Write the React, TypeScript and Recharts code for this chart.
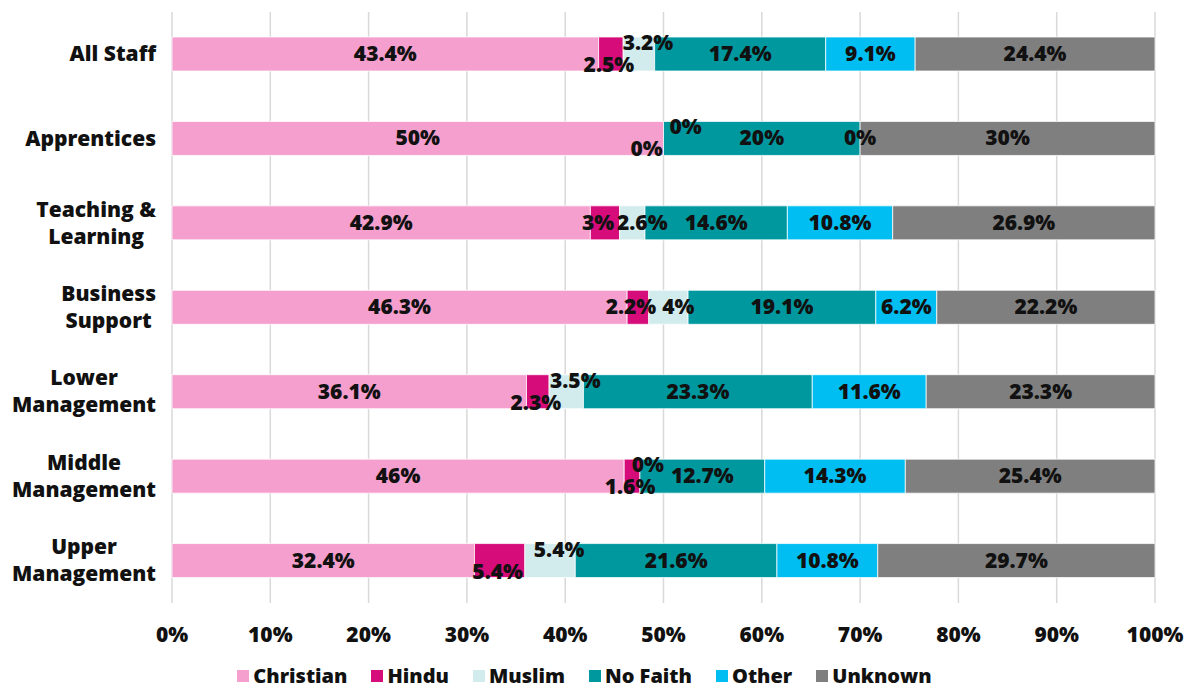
import React from "react";
import {
  BarChart,
  Bar,
  XAxis,
  YAxis,
  CartesianGrid,
  Legend,
  LabelList,
} from "recharts";

const categories = [
  "All Staff",
  "Apprentices",
  "Teaching & Learning",
  "Business Support",
  "Lower Management",
  "Middle Management",
  "Upper Management",
];

// how each category name is broken over lines on the axis
const tickLines = [
  ["All Staff"],
  ["Apprentices"],
  ["Teaching &", "Learning"],
  ["Business", "Support"],
  ["Lower", "Management"],
  ["Middle", "Management"],
  ["Upper", "Management"],
];

const christian = [43.4, 50, 42.9, 46.3, 36.1, 46, 32.4];
const hindu = [2.5, 0, 3, 2.2, 2.3, 1.6, 5.4];
const muslim = [3.2, 0, 2.6, 4, 3.5, 0, 5.4];
const noFaith = [17.4, 20, 14.6, 19.1, 23.3, 12.7, 21.6];
const other = [9.1, 0, 10.8, 6.2, 11.6, 14.3, 10.8];
const unknown = [24.4, 30, 26.9, 22.2, 23.3, 25.4, 29.7];

const xTicks = [0, 0.1, 0.2, 0.3, 0.4, 0.5, 0.6, 0.7, 0.8, 0.9, 1];

const series = [
  { key: "christian", name: "Christian", values: christian, color: "#F49FCD" },
  { key: "hindu", name: "Hindu", values: hindu, color: "#D60C7B" },
  { key: "muslim", name: "Muslim", values: muslim, color: "#D2ECEE" },
  { key: "noFaith", name: "No Faith", values: noFaith, color: "#00989F" },
  { key: "other", name: "Other", values: other, color: "#00BEF2" },
  { key: "unknown", name: "Unknown", values: unknown, color: "#7F7F7F" },
];

const data = categories.map((name, i) => {
  const row: Record<string, any> = { name };
  series.forEach((s) => {
    row[s.key] = s.values[i];
  });
  return row;
});

// rows where the small Hindu / Muslim labels are staggered vertically
const STAGGER = [0, 1, 4, 5, 6];

const FONT = "'Open Sans', Lato, sans-serif";
const TEXT = "#111";
const FS = 21;
const FW = 800;

let canvasCtx: CanvasRenderingContext2D | null = null;
const measure = (txt: string) => {
  if (!canvasCtx) canvasCtx = document.createElement("canvas").getContext("2d");
  if (!canvasCtx) return txt.length * 11;
  canvasCtx.font = `${FW} ${FS}px 'Open Sans'`;
  return canvasCtx.measureText(txt).width;
};

const txtProps = {
  fontFamily: FONT,
  fontWeight: FW,
  fontSize: FS,
  fill: TEXT,
  textAnchor: "middle" as const,
};

const CategoryTick = (props: any) => {
  const { x, y, payload } = props;
  const lines: string[] = tickLines[categories.indexOf(payload.value)] || [payload.value];
  const maxW = Math.max(...lines.map(measure));
  const right = x - 16;
  const cx = right - maxW / 2;
  const lh = 27;
  const startY = y - ((lines.length - 1) * lh) / 2;
  return (
    <g>
      {lines.map((l, i) => (
        <text key={l} x={cx} y={startY + i * lh} dy={7} {...txtProps}>
          {l}
        </text>
      ))}
    </g>
  );
};

// Drawn from the last (always non-empty) segment of each row: the row's
// full width follows from that segment's size, so every label (zeros too)
// sits on its own segment.
const RowLabels = (props: any) => {
  const { x, y, width, height, index } = props;
  const vals = series.map((s) => s.values[index]);
  const total = vals.reduce((a, b) => a + b, 0);
  const last = vals[vals.length - 1];
  const fullW = (Number(width) * total) / last;
  const left = Number(x) + Number(width) - fullW;
  const cy = Number(y) + Number(height) / 2;
  const staggered = STAGGER.includes(index);
  let cum = 0;
  return (
    <g>
      {series.map((s, k) => {
        const v = vals[k];
        const cx = left + (fullW * (cum + v / 2)) / total;
        cum += v;
        let dx = 0;
        let dy = 0;
        if (s.key === "hindu") {
          dx = staggered ? (v === 0 ? -17 : -2) : -7;
          dy = staggered ? 11 : 0;
        } else if (s.key === "muslim") {
          dx = staggered ? (v === 0 ? (vals[1] === 0 ? 22 : 8) : 9) : 10;
          dy = staggered ? -11 : 0;
        }
        return (
          <text key={s.key} x={cx + dx} y={cy + dy} dy={7} {...txtProps}>
            {`${v}%`}
          </text>
        );
      })}
    </g>
  );
};

const LegendContent = () => (
  <div
    style={{
      display: "flex",
      justifyContent: "center",
      paddingLeft: 6,
      fontFamily: FONT,
      fontWeight: FW,
      fontSize: FS - 1,
      lineHeight: "25px",
      color: TEXT,
    }}
  >
    {series.map((s, k) => (
      <div
        key={s.key}
        style={{
          display: "flex",
          alignItems: "center",
          marginRight: k === series.length - 1 ? 0 : 24,
        }}
      >
        <span
          style={{
            display: "inline-block",
            width: 12,
            height: 12,
            background: s.color,
            marginRight: 4,
          }}
        />
        {s.name}
      </div>
    ))}
  </div>
);

export default function App() {
  return (
    <div style={{ width: 1179, height: 680, background: "#fff" }}>
      <BarChart
        width={1179}
        height={680}
        data={data}
        layout="vertical"
        stackOffset="expand"
        barSize={34}
        margin={{ top: 4, right: 32, left: 0, bottom: 0 }}
      >
        <CartesianGrid horizontal={false} stroke="#D9D9D9" strokeWidth={1.5} />
        <XAxis
          type="number"
          domain={[0, 1]}
          ticks={xTicks}
          tickFormatter={(v: number) => `${Math.round(v * 100)}%`}
          axisLine={false}
          tickLine={false}
          tickSize={0}
          tickMargin={24}
          height={52}
          tick={{ fontFamily: FONT, fontWeight: FW, fontSize: FS, fill: TEXT }}
          interval={0}
        />
        <YAxis
          type="category"
          dataKey="name"
          width={164}
          axisLine={false}
          tickLine={false}
          tickSize={0}
          tickMargin={0}
          tick={<CategoryTick />}
          interval={0}
        />
        <Legend
          verticalAlign="bottom"
          content={<LegendContent />}
          wrapperStyle={{ height: 25, paddingTop: 8 }}
        />
        {series.map((s, k) => (
          <Bar
            key={s.key}
            dataKey={s.key}
            name={s.name}
            stackId="a"
            fill={s.color}
            stroke="#fff"
            strokeWidth={0.75}
            isAnimationActive={false}
          >
            {k === series.length - 1 && (
              <LabelList dataKey={s.key} content={<RowLabels />} />
            )}
          </Bar>
        ))}
      </BarChart>
    </div>
  );
}
